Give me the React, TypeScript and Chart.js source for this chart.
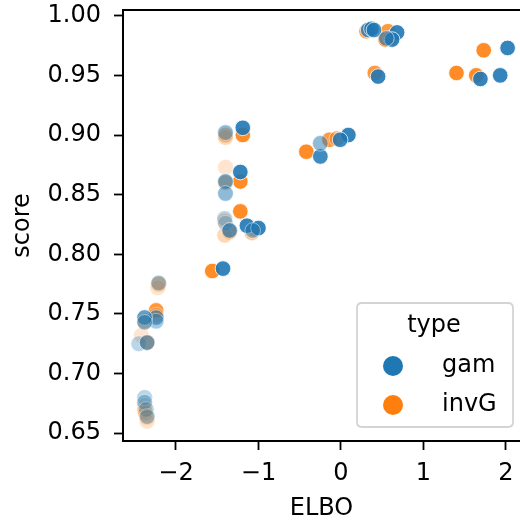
import React, { useEffect, useRef } from "react";
import { Chart, registerables } from "chart.js";

Chart.register(...registerables);

const X_TICKS = [-2, -1, 0, 1, 2];
const Y_TICKS = [0.65, 0.7, 0.75, 0.8, 0.85, 0.9, 0.95, 1.0];
const SERIES_NAMES = ["gam", "invG"];

const gamX = [0.33, 0.37, 0.40, 0.68, 0.62, 0.55, 0.45, 2.02, 1.69, 1.93, -0.25, -0.25, 0.09, -0.01,
  -1.40, -1.19, -1.22, -1.40, -1.40, -1.14, -1.00, -1.07, -1.41, -1.40, -1.35, -1.43,
  -2.21, -2.24, -2.24, -2.38, -2.38, -2.45, -2.35, -2.38, -2.38, -2.36, -2.35];
const gamY = [0.988, 0.989, 0.988, 0.986, 0.980, 0.981, 0.949, 0.973, 0.947, 0.950, 0.882, 0.893, 0.900, 0.896,
  0.902, 0.906, 0.869, 0.861, 0.851, 0.824, 0.822, 0.820, 0.830, 0.826, 0.820, 0.788,
  0.776, 0.747, 0.744, 0.747, 0.743, 0.725, 0.726, 0.680, 0.676, 0.670, 0.664];
const gamAlpha = [0.8, 0.8, 0.8, 0.9, 0.9, 0.6, 0.9, 0.9, 0.9, 0.9, 0.85, 0.5, 0.9, 0.85,
  0.5, 0.9, 0.9, 0.6, 0.5, 0.9, 0.9, 0.5, 0.3, 0.3, 0.7, 0.9,
  0.4, 0.6, 0.4, 0.7, 0.5, 0.3, 0.6, 0.3, 0.4, 0.3, 0.4];

const invgX = [0.31, 0.36, 0.57, 0.54, 0.60, 0.41, 1.73, 1.40, 1.64, -0.42, -0.14, -0.05,
  -1.40, -1.40, -1.19, -1.40, -1.22, -1.40, -1.22, -1.08, -1.05, -1.41, -1.35, -1.41, -1.56,
  -2.21, -2.22, -2.24, -2.24, -2.38, -2.42, -2.35, -2.38, -2.38, -2.37, -2.35, -2.35];
const invgY = [0.987, 0.988, 0.987, 0.980, 0.981, 0.952, 0.971, 0.952, 0.950, 0.886, 0.896, 0.897,
  0.900, 0.898, 0.900, 0.873, 0.861, 0.860, 0.836, 0.818, 0.821, 0.828, 0.819, 0.816, 0.786,
  0.775, 0.772, 0.753, 0.749, 0.744, 0.732, 0.726, 0.673, 0.669, 0.667, 0.663, 0.660];
const invgAlpha = [0.8, 0.6, 0.8, 0.9, 0.6, 0.8, 0.9, 0.9, 0.9, 0.9, 0.8, 0.6,
  0.5, 0.3, 0.9, 0.2, 0.9, 0.5, 0.9, 0.4, 0.5, 0.3, 0.6, 0.3, 0.9,
  0.5, 0.2, 0.8, 0.4, 0.5, 0.2, 0.6, 0.3, 0.4, 0.3, 0.3, 0.2];

const BLUE = [31, 119, 180];
const ORANGE = [255, 127, 14];
const FONT = "'DejaVu Sans', sans-serif";

const rgba = (c: number[], a: number) => `rgba(${c[0]},${c[1]},${c[2]},${a})`;

const zeroPad = (s: any) => {
  s.paddingTop = 0;
  s.paddingBottom = 0;
  s.paddingLeft = 0;
  s.paddingRight = 0;
};

const spinePlugin = {
  id: "spines",
  afterDraw(chart: any) {
    const { ctx, chartArea } = chart;
    ctx.save();
    ctx.strokeStyle = "#000";
    ctx.lineWidth = 2;
    ctx.beginPath();
    ctx.moveTo(chartArea.left - 1, chartArea.top);
    ctx.lineTo(chartArea.right + 2, chartArea.top);
    ctx.stroke();
    ctx.restore();
  },
};

const legendPlugin = {
  id: "customLegend",
  afterDraw(chart: any) {
    const { ctx } = chart;
    ctx.save();
    const x = 357, y = 303, w = 156, h = 124, r = 5;
    ctx.beginPath();
    ctx.moveTo(x + r, y);
    ctx.lineTo(x + w - r, y);
    ctx.quadraticCurveTo(x + w, y, x + w, y + r);
    ctx.lineTo(x + w, y + h - r);
    ctx.quadraticCurveTo(x + w, y + h, x + w - r, y + h);
    ctx.lineTo(x + r, y + h);
    ctx.quadraticCurveTo(x, y + h, x, y + h - r);
    ctx.lineTo(x, y + r);
    ctx.quadraticCurveTo(x, y, x + r, y);
    ctx.closePath();
    ctx.fillStyle = "rgba(255,255,255,0.8)";
    ctx.fill();
    ctx.strokeStyle = "#d4d4d4";
    ctx.lineWidth = 1.8;
    ctx.stroke();
    ctx.fillStyle = "#000";
    ctx.font = `24px ${FONT}`;
    ctx.textBaseline = "middle";
    ctx.textAlign = "center";
    ctx.fillText("type", 434, 326);
    const cols = [BLUE, ORANGE];
    const ys = [366, 405];
    SERIES_NAMES.forEach((name, i) => {
      ctx.beginPath();
      ctx.arc(393, ys[i], 10, 0, Math.PI * 2);
      ctx.fillStyle = rgba(cols[i], 1);
      ctx.fill();
      ctx.fillStyle = "#000";
      ctx.textAlign = "left";
      ctx.fillText(name, 442, ys[i]);
    });
    ctx.restore();
  },
};

export default function App() {
  const ref = useRef<HTMLCanvasElement | null>(null);
  useEffect(() => {
    if (!ref.current) return;
    const mk = (xs: number[], ys: number[], al: number[], c: number[], label: string) => ({
      label,
      data: xs.map((v, i) => ({ x: v, y: ys[i] })),
      backgroundColor: al.map((a) => rgba(c, a)),
      borderColor: al.map((a) => `rgba(255,255,255,${Math.min(1, a + 0.1)})`),
      borderWidth: 0.8,
      pointRadius: 7.8,
      pointHoverRadius: 7.8,
    });
    const chart = new Chart(ref.current, {
      type: "scatter",
      data: {
        datasets: [
          mk(gamX, gamY, gamAlpha, BLUE, SERIES_NAMES[0]),
          mk(invgX, invgY, invgAlpha, ORANGE, SERIES_NAMES[1]),
        ],
      },
      options: {
        animation: false,
        responsive: false,
        maintainAspectRatio: false,
        layout: { autoPadding: false, padding: { top: 10, left: 0, right: 0, bottom: 0 } },
        plugins: { legend: { display: false }, tooltip: { enabled: false } },
        scales: {
          x: {
            type: "linear",
            min: -2.642,
            max: 2.17,
            afterFit: (s: any) => { s.height = 79; zeroPad(s); },
            afterBuildTicks: (s: any) => { s.ticks = X_TICKS.map((v) => ({ value: v })); },
            ticks: {
              color: "#000",
              font: { family: FONT, size: 24 },
              padding: 9,
              callback: (v: any) => (Number(v) < 0 ? "\u2212" + Math.abs(Number(v)) : String(v)),
            },
            grid: { drawOnChartArea: false, drawTicks: true, tickLength: 9, tickWidth: 1.8, tickColor: "#000" },
            border: { display: true, color: "#000", width: 2 },
            title: { display: true, text: "ELBO", color: "#000", font: { family: FONT, size: 24 }, padding: { top: 0, bottom: -3 } },
          },
          y: {
            type: "linear",
            min: 0.6435,
            max: 1.0048,
            afterFit: (s: any) => { s.width = 123; zeroPad(s); },
            afterBuildTicks: (s: any) => { s.ticks = Y_TICKS.map((v) => ({ value: v })); },
            ticks: {
              color: "#000",
              font: { family: FONT, size: 24 },
              padding: 13,
              callback: (v: any) => Number(v).toFixed(2),
            },
            grid: { drawOnChartArea: false, drawTicks: true, tickLength: 9, tickWidth: 1.8, tickColor: "#000" },
            border: { display: true, color: "#000", width: 2 },
            title: { display: true, text: "score", color: "#000", font: { family: FONT, size: 24 }, padding: { top: 8, bottom: 0 } },
          },
        },
      },
      plugins: [spinePlugin, legendPlugin],
    });
    return () => chart.destroy();
  }, []);
  return (
    <div style={{ position: "absolute", left: 0, top: 0, width: 520, height: 520, background: "#fff", overflow: "hidden" }}>
      <canvas ref={ref} width={520} height={520} style={{ width: 520, height: 520, display: "block" }} />
    </div>
  );
}
